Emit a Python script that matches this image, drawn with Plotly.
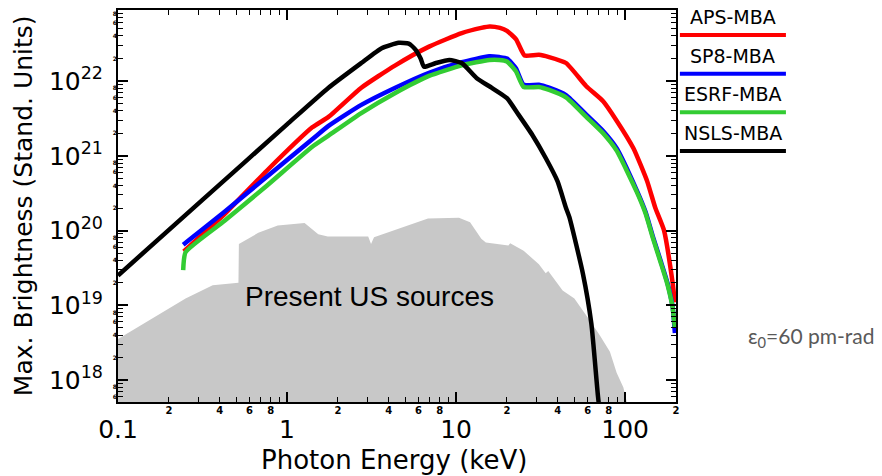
import math
import plotly.graph_objects as go

# ---------------- data ----------------
series_names = ["APS-MBA", "SP8-MBA", "ESRF-MBA", "NSLS-MBA"]
series_colors = ["#ff0000", "#0000ff", "#33cc33", "#000000"]

aps_energy = [0.245, 0.316, 0.427, 0.759, 1.41, 1.76, 2.75, 4.37, 6.92, 10.8, 14.1, 15.8,
              18.2, 20.0, 22.6, 24.5, 25.4, 30.9, 35.5, 44.7, 58.9, 74.1, 89.1, 112, 135,
              151, 170, 191, 197]
aps_bright = [5.25e19, 8.91e19, 1.66e20, 6.31e20, 2.40e21, 3.31e21, 8.13e21, 1.62e22, 2.88e22,
              4.37e22, 5.13e22, 5.37e22, 5.13e22, 4.68e22, 3.63e22, 2.51e22, 2.19e22, 2.24e22,
              2.09e22, 1.74e22, 8.51e21, 5.37e21, 2.95e21, 1.26e21, 4.57e20, 2.0e20, 1.0e20,
              2.0e19, 1.10e19]

sp8_energy = [0.243, 0.427, 0.759, 1.41, 1.76, 2.75, 4.37, 6.92, 10.8, 15.7, 18.0, 20.0, 22.6,
              25.1, 30.9, 35.5, 44.7, 58.9, 74.1, 89.1, 117, 132, 146, 162, 178, 191, 197]
sp8_bright = [6.46e19, 1.78e20, 5.25e20, 1.66e21, 2.51e21, 4.79e21, 8.13e21, 1.29e22, 1.78e22,
              2.14e22, 2.09e22, 2.0e22, 1.48e22, 8.91e21, 8.91e21, 8.13e21, 6.46e21, 3.55e21,
              2.14e21, 1.26e21, 3.47e20, 1.78e20, 8.32e19, 3.98e19, 2.0e19, 9.55e18, 4.27e18]

esrf_energy = [0.243, 0.251, 0.427, 0.759, 1.41, 1.76, 2.75, 4.37, 6.92, 10.8, 15.7, 18.0, 20.0,
               22.6, 25.1, 30.9, 35.5, 44.7, 58.9, 74.1, 89.1, 117, 132, 146, 162, 178, 191, 197]
esrf_bright = [2.95e19, 5.13e19, 1.35e20, 3.98e20, 1.32e21, 1.86e21, 3.72e21, 6.92e21, 1.17e22,
               1.62e22, 1.91e22, 1.91e22, 1.82e22, 1.35e22, 8.32e21, 8.32e21, 7.59e21, 6.03e21,
               3.31e21, 2.0e21, 1.17e21, 3.31e20, 1.70e20, 7.94e19, 3.80e19, 1.91e19, 9.33e18,
               5.01e18]

nsls_energy = [0.1, 0.316, 1.0, 1.76, 2.75, 3.63, 4.57, 5.25, 5.75, 6.17, 6.46, 7.59, 9.12, 10.8,
               13.2, 16.2, 20.0, 23.4, 28.2, 33.9, 39.8, 44.7, 46.8, 56.2, 63.1, 69.2, 74.1]
nsls_bright = [2.51e19, 2.57e20, 2.63e21, 8.13e21, 1.74e22, 2.75e22, 3.24e22, 3.16e22, 2.63e22,
               2.0e22, 1.55e22, 1.74e22, 1.91e22, 1.74e22, 1.10e22, 8.13e21, 5.89e21, 3.55e21,
               1.91e21, 9.33e20, 4.57e20, 2.0e20, 1.51e20, 2.69e19, 5.75e18, 5.89e17, 1.58e17]

us_energy = [0.1, 0.166, 0.251, 0.363, 0.501, 0.516, 0.519, 0.676, 0.881, 1.27, 1.53, 1.74,
             3.02, 3.14, 3.27, 4.85, 6.82, 10.4, 12.1, 14.1, 15.0, 20.4, 20.9, 25.1, 30.9,
             33.9, 35.1, 42.7, 49.0, 50.1, 61.7, 70.8, 81.3, 89.1, 97.7, 105]
us_bright = [3.55e18, 7.08e18, 1.23e19, 1.86e19, 2.0e19, 2.0e19, 6.61e19, 9.33e19, 1.17e20,
             1.26e20, 8.91e19, 8.32e19, 8.32e19, 6.61e19, 8.13e19, 1.12e20, 1.45e20, 1.48e20,
             1.29e20, 7.76e19, 6.92e19, 6.31e19, 6.76e19, 5.37e19, 3.55e19, 2.69e19, 2.88e19,
             1.58e19, 1.26e19, 1.23e19, 6.31e18, 3.98e18, 2.40e18, 1.26e18, 7.94e17, 3.98e17]

x_range = [0.1, 200]
y_range = [5.1e17, 8.9e22]
x_major = [0.1, 1, 10, 100]
x_major_text = ["0.1", "1", "10", "100"]
y_exponents = [18, 19, 20, 21, 22]
minor_digits = [2, 3, 4, 5, 6, 7, 8, 9]
label_digits = [2, 4, 6, 8]

x_title = "Photon Energy (keV)"
y_title = "Max. Brightness (Stand. Units)"
area_label = "Present US sources"
emittance_label = "ε<sub>0</sub>=60 pm-rad"

# ---------------- derived tick lists ----------------
x_minor = [d * 10 ** k for k in range(-1, 3) for d in minor_digits if d * 10 ** k <= x_range[1]]
x_minor_lab = [d * 10 ** k for k in range(-1, 3) for d in label_digits if d * 10 ** k <= x_range[1]]
y_major = [10.0 ** e for e in y_exponents]
y_major_text = ["10<sup>%d</sup>" % e for e in y_exponents]
y_minor = [d * 10.0 ** k for k in range(17, 23) for d in minor_digits
           if y_range[0] <= d * 10.0 ** k <= y_range[1]]
y_minor_lab = [d * 10.0 ** k for k in range(17, 23) for d in label_digits
               if y_range[0] <= d * 10.0 ** k <= y_range[1]]


def lead_digit(v):
    return str(int(round(v / 10 ** math.floor(math.log10(v) + 1e-9))))


xr = [math.log10(v) for v in x_range]
yr = [math.log10(v) for v in y_range]

AX_FONT = "DejaVu Sans"

fig = go.Figure()

# gray area "present US sources" (closed down below the bottom of the axis range)
fig.add_trace(go.Scatter(
    x=us_energy + [us_energy[-1], us_energy[0]],
    y=us_bright + [y_range[0] / 10, y_range[0] / 10],
    mode="lines", fill="toself", fillcolor="#c8c8c8",
    line=dict(width=0, color="#c8c8c8"), showlegend=False, hoverinfo="skip"))

for name, color, xs, ys in zip(series_names, series_colors,
                               [aps_energy, sp8_energy, esrf_energy, nsls_energy],
                               [aps_bright, sp8_bright, esrf_bright, nsls_bright]):
    fig.add_trace(go.Scatter(x=xs, y=ys, mode="lines", name=name,
                             line=dict(color=color, width=4.5, shape="spline", smoothing=0.5),
                             showlegend=False))

# invisible trace carrying the overlay axes that hold the small minor-tick labels
fig.add_trace(go.Scatter(x=[x_range[0]], y=[y_range[0]], xaxis="x2", yaxis="y2",
                         mode="markers", marker=dict(opacity=0), showlegend=False,
                         hoverinfo="skip"))

fig.update_layout(
    width=882, height=476,
    margin=dict(l=118, r=206, t=10, b=74),
    paper_bgcolor="white", plot_bgcolor="white",
    font=dict(family=AX_FONT, color="black"),
    xaxis=dict(
        type="log", range=xr, showgrid=False, zeroline=False,
        showline=True, linecolor="black", linewidth=2, mirror="allticks",
        ticks="inside", ticklen=10, tickwidth=1.5, tickcolor="black",
        tickmode="array", tickvals=x_major, ticktext=x_major_text,
        tickfont=dict(size=25, family=AX_FONT), ticklabelstandoff=4,
        minor=dict(ticks="inside", ticklen=5, tickwidth=1.2, tickcolor="black",
                   tickmode="array", tickvals=x_minor, showgrid=False),
        automargin=False,
    ),
    yaxis=dict(
        type="log", range=yr, showgrid=False, zeroline=False,
        showline=True, linecolor="black", linewidth=2, mirror="allticks",
        ticks="inside", ticklen=10, tickwidth=1.5, tickcolor="black",
        tickmode="array", tickvals=y_major, ticktext=y_major_text,
        tickfont=dict(size=25, family=AX_FONT), ticklabelstandoff=8,
        minor=dict(ticks="inside", ticklen=5, tickwidth=1.2, tickcolor="black",
                   tickmode="array", tickvals=y_minor, showgrid=False),
        automargin=False,
    ),
    xaxis2=dict(
        type="log", range=xr, overlaying="x", side="bottom", showgrid=False,
        zeroline=False, showline=False, ticks="", tickmode="array",
        tickvals=x_minor_lab, ticktext=[lead_digit(v) for v in x_minor_lab],
        tickfont=dict(size=10, family="DejaVu Sans", weight="bold"),
        ticklabelstandoff=1, automargin=False,
    ),
    yaxis2=dict(
        type="log", range=yr, overlaying="y", side="left", showgrid=False,
        zeroline=False, showline=False, ticks="", tickmode="array",
        tickvals=y_minor_lab, ticktext=[lead_digit(v) for v in y_minor_lab],
        tickfont=dict(size=6, family="DejaVu Sans", weight="bold"),
        ticklabelstandoff=0, automargin=False,
    ),
)

# axis titles
fig.add_annotation(text=x_title, xref="paper", yref="paper", x=0.495, y=-0.149,
                   showarrow=False, xanchor="center", yanchor="middle",
                   font=dict(size=26, family=AX_FONT, color="black"))
fig.add_annotation(text=y_title, xref="paper", yref="paper", x=-0.170, y=0.5,
                   showarrow=False, xanchor="center", yanchor="middle", textangle=-90,
                   font=dict(size=25, family=AX_FONT, color="black"))

# legend drawn as in the reference: name above a coloured bar, right of the plot
leg_top = 0.982
leg_step = 0.0985
for i, (name, color) in enumerate(zip(series_names, series_colors)):
    ty = leg_top - i * leg_step
    fig.add_annotation(text=name, xref="paper", yref="paper", x=1.102, y=ty,
                       showarrow=False, xanchor="center", yanchor="middle",
                       font=dict(size=19, family=AX_FONT, color="black"))
    fig.add_shape(type="line", xref="paper", yref="paper",
                  x0=1.007, x1=1.197, y0=ty - 0.046, y1=ty - 0.046,
                  line=dict(color=color, width=4))

fig.add_annotation(text=area_label, xref="paper", yref="paper", x=0.45, y=0.270,
                   showarrow=False, xanchor="center", yanchor="middle",
                   font=dict(size=28, family="Liberation Sans", color="black"))

fig.add_annotation(text=emittance_label, xref="paper", yref="paper", x=1.360, y=0.166,
                   showarrow=False, xanchor="right", yanchor="middle",
                   font=dict(size=21, family="Lato", color="#595959"))

fig.write_html("out.html", config={"displayModeBar": False},
               post_script="document.body.style.margin='0';")
